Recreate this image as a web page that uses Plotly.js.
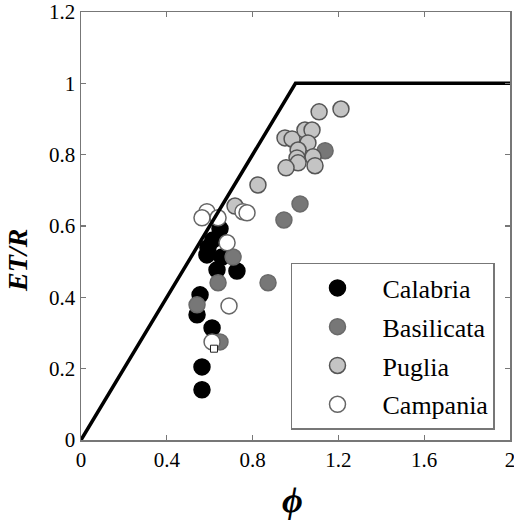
<!DOCTYPE html>
<html>
<head>
<meta charset="utf-8">
<script src="https://cdn.plot.ly/plotly-3.0.1.min.js"></script>
<style>html,body{margin:0;padding:0;background:#fff;}#chart{width:514px;height:520px;}</style>
</head>
<body>
<div id="chart"></div>
<script>
// Calabria
var calabriaX = [0.648, 0.615, 0.592, 0.587, 0.657, 0.634, 0.727, 0.555, 0.541, 0.611, 0.564, 0.564];
var calabriaY = [0.592, 0.561, 0.539, 0.519, 0.513, 0.477, 0.474, 0.407, 0.351, 0.314, 0.205, 0.141];
// Basilicata
var basilicataX = [0.709, 0.639, 0.541, 0.648, 0.872, 0.946, 1.021, 1.138];
var basilicataY = [0.513, 0.441, 0.379, 0.275, 0.441, 0.617, 0.662, 0.811];
// Puglia
var pugliaX = [0.718, 0.825, 1.110, 1.212, 0.951, 0.984, 1.044, 1.077, 1.058, 1.012, 1.007, 1.082, 1.091, 1.012, 0.956];
var pugliaY = [0.656, 0.715, 0.920, 0.928, 0.847, 0.844, 0.869, 0.869, 0.833, 0.813, 0.791, 0.794, 0.769, 0.777, 0.763];
// Campania
var campaniaX = [0.587, 0.564, 0.639, 0.755, 0.774, 0.681, 0.690, 0.611];
var campaniaY = [0.640, 0.623, 0.623, 0.640, 0.637, 0.553, 0.376, 0.275];
// small square marker
var squareX = [0.620];
var squareY = [0.256];
// limit line
var limitX = [0, 1, 2];
var limitY = [0, 1, 1];
// ticks
var xTickVals = [0, 0.4, 0.8, 1.2, 1.6, 2];
var xTickText = ["0", "0.4", "0.8", "1.2", "1.6", "2"];
var yTickVals = [0, 0.2, 0.4, 0.6, 0.8, 1, 1.2];
var yTickText = ["0", "0.2", "0.4", "0.6", "0.8", "1", "1.2"];

var serif = "Liberation Serif";
function pts(name, x, y, fill, edge, grp) {
  return {
    type: "scatter", mode: "markers", name: name, x: x, y: y,
    legendgroup: grp,
    marker: {size: 16, color: fill, line: {color: edge, width: 1.5}},
    hoverinfo: "x+y"
  };
}
var data = [
  pts("Calabria", calabriaX, calabriaY, "#000000", "#000000", "g1"),
  pts("Basilicata", basilicataX, basilicataY, "#777777", "#6a6a6a", "g2"),
  pts("Puglia", pugliaX, pugliaY, "#c4c4c4", "#555555", "g3"),
  pts("Campania", campaniaX, campaniaY, "#ffffff", "#666666", "g4"),
  {type: "scatter", mode: "markers", x: squareX, y: squareY, showlegend: false,
   marker: {symbol: "square", size: 7, color: "#ffffff", line: {color: "#222", width: 1}}},
  {type: "scatter", mode: "lines", x: limitX, y: limitY, showlegend: false,
   line: {color: "#000", width: 3.5}}
];
function axis(extra) {
  var a = {
    showline: true, linecolor: "#777", linewidth: 1.5, mirror: "ticks",
    ticks: "inside", ticklen: 5, tickcolor: "#777", tickwidth: 1.2,
    showgrid: false, zeroline: false, tickmode: "array",
    ticklabeloverflow: "allow",
    tickfont: {family: serif, size: 21, color: "#000"}
  };
  for (var k in extra) a[k] = extra[k];
  return a;
}
var layout = {
  width: 514, height: 520,
  font: {family: serif, size: 21, color: "#000"},
  margin: {l: 81, r: 4, t: 12, b: 80},
  paper_bgcolor: "#fff", plot_bgcolor: "#fff",
  xaxis: axis({range: [0, 2], tickvals: xTickVals, ticktext: xTickText}),
  yaxis: axis({range: [0, 1.2], tickvals: yTickVals, ticktext: yTickText}),
  showlegend: true,
  legend: {
    x: 0.4895, y: 0.4136, xanchor: "left", yanchor: "top",
    bordercolor: "#777", borderwidth: 1.5, bgcolor: "#fff",
    font: {family: serif, size: 26, color: "#000"},
    itemwidth: 80, traceorder: "grouped", tracegroupgap: 2
  },
  annotations: [
    {xref: "paper", yref: "paper", x: -0.147, y: 0.4206, xanchor: "center", yanchor: "middle",
     text: "<b><i>ET/R</i></b>", showarrow: false,
     textangle: -90, font: {family: serif, size: 28, color: "#000"}},
    {xref: "paper", yref: "paper", x: 0.492, y: -0.140, xanchor: "center", yanchor: "middle",
     text: "<b><i>ϕ</i></b>", showarrow: false,
     font: {family: serif, size: 36, color: "#000"}}
  ]
};
Plotly.newPlot("chart", data, layout, {displayModeBar: false, staticPlot: true});
</script>
</body>
</html>
